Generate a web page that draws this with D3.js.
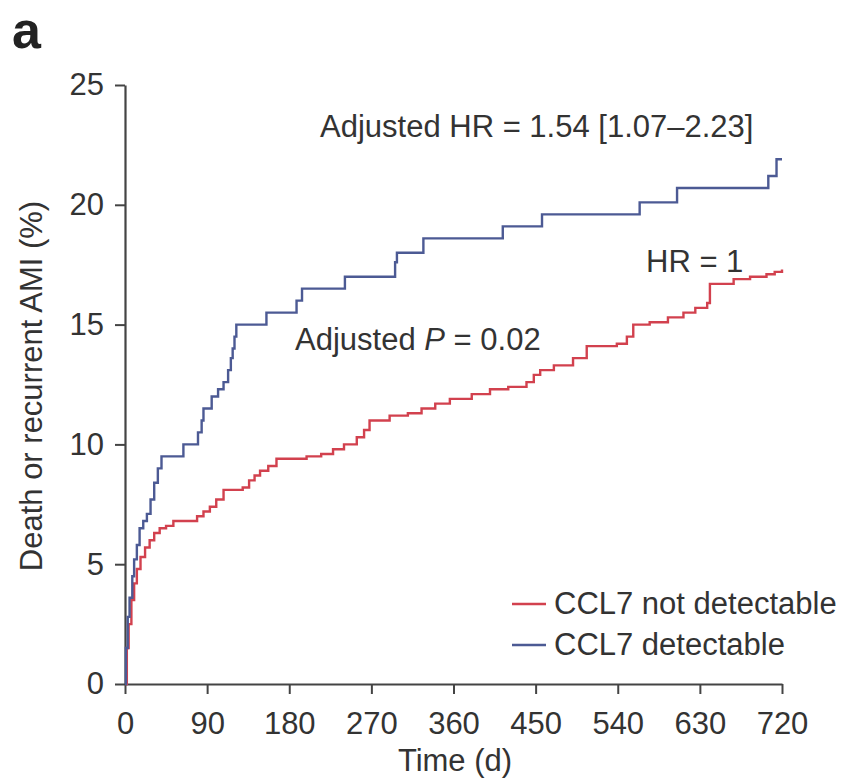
<!DOCTYPE html>
<html>
<head>
<meta charset="utf-8">
<script src="https://cdn.jsdelivr.net/npm/d3@7"></script>
<style>
  body { margin: 0; background: #fff; }
  text { font-family: "Liberation Sans", Arial, sans-serif; fill: #333; }
</style>
</head>
<body>
<div id="chart"></div>
<script>
// event times (days) and cumulative incidence (%)
const blueDays = [0, 1, 3, 5, 8, 10, 13, 16, 20, 24, 28, 32, 36, 40, 64, 80, 84, 86, 95, 102, 108, 113, 116, 118, 120, 122, 155, 188, 194, 241, 296, 298, 327, 414, 457, 564, 605, 705, 714, 720]
const blueVals = [0, 1.5, 2.8, 3.6, 4.5, 5.2, 5.8, 6.5, 6.8, 7.1, 7.7, 8.4, 9.0, 9.5, 10.0, 10.5, 11.0, 11.5, 12.0, 12.3, 12.6, 13.1, 13.6, 14.0, 14.5, 15.0, 15.5, 16.0, 16.5, 17.0, 17.6, 18.0, 18.6, 19.1, 19.6, 20.1, 20.7, 21.2, 21.9, 21.9]

const redDays = [0, 2, 4, 7, 10, 13, 17, 22, 27, 32, 38, 45, 53, 65, 79, 86, 93, 100, 108, 129, 136, 142, 148, 157, 166, 199, 215, 228, 240, 254, 262, 268, 290, 310, 325, 340, 356, 380, 400, 420, 440, 448, 455, 470, 491, 506, 539, 550, 557, 575, 595, 612, 625, 638, 641, 667, 685, 703, 712, 720]
const redVals = [0, 1.5, 2.5, 3.5, 4.2, 4.8, 5.3, 5.7, 6.0, 6.3, 6.5, 6.6, 6.8, 6.8, 7.0, 7.2, 7.4, 7.7, 8.1, 8.2, 8.5, 8.7, 8.9, 9.1, 9.4, 9.5, 9.6, 9.8, 10.0, 10.3, 10.6, 11.0, 11.2, 11.3, 11.5, 11.7, 11.9, 12.1, 12.3, 12.4, 12.6, 12.9, 13.1, 13.3, 13.6, 14.1, 14.2, 14.5, 15.0, 15.1, 15.3, 15.5, 15.7, 15.9, 16.7, 16.9, 17.0, 17.1, 17.2, 17.3]

const xTicks = [0, 90, 180, 270, 360, 450, 540, 630, 720]
const yTicks = [0, 5, 10, 15, 20, 25]
const seriesNames = ["CCL7 not detectable", "CCL7 detectable"]
const seriesColors = ["#d2414e", "#4c5a94"]

const W = 843, H = 781
const margin = {left: 125, right: 61, top: 85, bottom: 97}
const FONT = "31px"

const svg = d3.select("#chart").append("svg")
    .attr("width", W).attr("height", H)

const x = d3.scaleLinear().domain([0, 720]).range([margin.left, W - margin.right])
const y = d3.scaleLinear().domain([0, 25]).range([H - margin.bottom, margin.top])

//panel letter
svg.append("text").attr("x", 12).attr("y", 48)
    .style("font-size", "52px").style("font-weight", "bold").style("fill", "#222")
    .text("a")

//axes
const xAxis = svg.append("g")
    .attr("transform", `translate(0,${y(0)})`)
    .call(d3.axisBottom(x).tickValues(xTicks).tickSize(10).tickPadding(18).tickSizeOuter(0))
const yAxis = svg.append("g")
    .attr("transform", `translate(${x(0)},0)`)
    .call(d3.axisLeft(y).tickValues(yTicks).tickSize(10).tickPadding(11).tickSizeOuter(0))

;[xAxis, yAxis].forEach(g => {
    g.select(".domain").attr("stroke", "#444").attr("stroke-width", 2.2)
    g.selectAll(".tick line").attr("stroke", "#444").attr("stroke-width", 2)
    g.selectAll(".tick text").style("font-size", FONT).style("font-family", "Liberation Sans, Arial, sans-serif").attr("fill", "#333")
})

//axis titles
svg.append("text").attr("x", 455).attr("y", 771)
    .attr("text-anchor", "middle").style("font-size", FONT).text("Time (d)")
svg.append("text")
    .attr("transform", `translate(42,386) rotate(-90)`)
    .attr("text-anchor", "middle").style("font-size", FONT)
    .text("Death or recurrent AMI (%)")

//curves
const line = d3.line().curve(d3.curveStepAfter)
    .x(d => x(d[0])).y(d => y(d[1]))

const series = [
    d3.zip(redDays, redVals),
    d3.zip(blueDays, blueVals)
]

svg.selectAll(".km").data(series).join("path")
    .attr("class", "km")
    .attr("fill", "none")
    .attr("stroke", (d, i) => seriesColors[i])
    .attr("stroke-width", 2.4)
    .attr("d", line)

//annotations
svg.append("text").attr("x", 320).attr("y", 137).style("font-size", FONT)
    .text("Adjusted HR = 1.54 [1.07\u20132.23]")
svg.append("text").attr("x", 646).attr("y", 272).style("font-size", FONT)
    .text("HR = 1")
const pText = svg.append("text").attr("x", 295).attr("y", 350).style("font-size", FONT)
pText.append("tspan").text("Adjusted ")
pText.append("tspan").style("font-style", "italic").text("P")
pText.append("tspan").text(" = 0.02")

//legend
const legend = svg.append("g")
seriesNames.forEach((name, i) => {
    const ly = 604 + i * 41
    legend.append("line").attr("x1", 512).attr("x2", 546).attr("y1", ly).attr("y2", ly)
        .attr("stroke", seriesColors[i]).attr("stroke-width", 2.6)
    legend.append("text").attr("x", 554).attr("y", ly + 10).style("font-size", FONT).text(name)
})
</script>
</body>
</html>
